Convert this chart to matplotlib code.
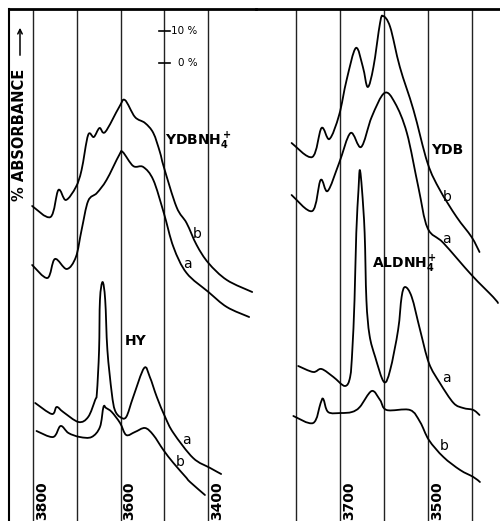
import matplotlib
matplotlib.use('Agg')
import matplotlib.pyplot as plt
import matplotlib.transforms as mtransforms
from matplotlib.path import Path
from matplotlib.patches import PathPatch, FancyArrowPatch
import numpy as np

# ---------------- data (wavenumber in cm-1, absorbance in chart units: 32 units = 10 %) -------------
YDBNH4_B_WN = [3802, 3760, 3742, 3725, 3702, 3689, 3674, 3661, 3648, 3635, 3603, 3590, 3567, 3544,
               3525, 3510, 3501, 3472, 3449, 3426, 3399, 3357, 3299]
YDBNH4_B_A = [315, 304, 331, 321, 334, 351, 386, 384, 393, 389, 414, 421, 404, 398,
              388, 369, 354, 314, 298, 276, 258, 241, 229]

YDBNH4_A_WN = [3802, 3767, 3750, 3723, 3702, 3689, 3674, 3654, 3632, 3603, 3595, 3571, 3548, 3525,
               3501, 3479, 3449, 3399, 3357, 3306]
YDBNH4_A_A = [256, 243, 262, 252, 264, 291, 320, 328, 341, 366, 369, 355, 354, 341,
              308, 274, 248, 229, 214, 204]

HY_A_WN = [3795, 3757, 3746, 3731, 3696, 3674, 3658, 3654, 3649, 3647, 3641, 3635, 3630, 3620,
           3613, 3601, 3587, 3571, 3546, 3533, 3517, 3498, 3479, 3434, 3395, 3370]
HY_A_A = [118, 107, 114, 109, 99, 104, 121, 128, 171, 221, 239, 221, 171, 128,
          111, 104, 104, 124, 153, 144, 124, 104, 88, 63, 53, 47]

HY_B_WN = [3792, 3754, 3737, 3719, 3693, 3666, 3647, 3639, 3633, 3620, 3601, 3587, 3567, 3544,
           3525, 3502, 3479, 3449, 3441, 3407]
HY_B_A = [90, 84, 95, 88, 84, 84, 94, 114, 113, 109, 98, 86, 89, 93,
          86, 71, 58, 43, 39, 26]

YDB_B_WN = [3810, 3763, 3742, 3724, 3702, 3685, 3664, 3648, 3637, 3624, 3609, 3602, 3586, 3564,
            3533, 3501, 3473, 3435, 3401, 3383]
YDB_B_A = [378, 364, 393, 382, 406, 441, 473, 454, 434, 454, 498, 505, 494, 454,
           411, 358, 331, 304, 284, 269]

YDB_A_WN = [3810, 3763, 3744, 3728, 3702, 3676, 3652, 3628, 3599, 3575, 3548, 3522, 3501, 3465,
            3401, 3352, 3341]
YDB_A_A = [326, 310, 341, 330, 358, 388, 374, 404, 428, 418, 388, 334, 293, 278,
           246, 224, 218]

ALDNH4_A_WN = [3795, 3761, 3742, 3715, 3689, 3677, 3672, 3667, 3663, 3658, 3655, 3650, 3644, 3640,
               3633, 3620, 3600, 3586, 3568, 3560, 3552, 3537, 3518, 3498, 3473, 3442, 3420, 3397, 3383]
ALDNH4_A_A = [155, 149, 152, 144, 135, 144, 171, 221, 288, 331, 351, 331, 288, 221,
              186, 164, 139, 151, 191, 224, 234, 224, 191, 158, 138, 118, 113, 111, 106]

ALDNH4_B_WN = [3806, 3761, 3744, 3738, 3727, 3698, 3673, 3655, 3628, 3609, 3594, 3541, 3518, 3498,
               3465, 3427, 3397, 3382]
ALDNH4_B_A = [105, 98, 118, 122, 109, 108, 109, 114, 130, 121, 111, 111, 99, 81,
              64, 51, 44, 39]

GRID_WN = [3800, 3700, 3600, 3500, 3400]
LEFT_TICKS = [3800, 3600, 3400]
RIGHT_TICKS = [3700, 3500]
SCALE_LABELS = ['10 %', '0 %']
SCALE_Y = [490, 458]

plt.rcParams['font.family'] = ['DejaVu Sans']
plt.rcParams['mathtext.default'] = 'regular'
LBL = 10
SML = 10

W, H = 500, 521
fig = plt.figure(figsize=(5.0, 5.21), dpi=100)
fig.patch.set_facecolor('white')


def P(px, row):
    return (px / W, 1 - row / H)


TOP = 8.5
axL = fig.add_axes([9 / W, 0, (256 - 9) / W, (H - TOP) / H])
axR = fig.add_axes([256 / W, 0, (500 - 256) / W, (H - TOP) / H])
axL.set_xlim(3854.9, 3290.3)
axR.set_xlim(3890.9, 3336.4)
for ax in (axL, axR):
    ax.set_ylim(0, H - TOP)
    ax.set_xticks([])
    ax.set_yticks([])
    ax.patch.set_alpha(0)
    for s in ('bottom', 'right', 'left'):
        ax.spines[s].set_visible(False)
    ax.spines['top'].set_linewidth(2.0)
    for wn in GRID_WN:
        ax.axvline(wn, color='#222222', lw=1.0, zorder=1)
axL.spines['left'].set_visible(True)
axL.spines['left'].set_linewidth(1.5)


def spectrum(ax, xs, ys):
    """Smooth curve through every read point (Catmull-Rom as cubic Bezier segments)."""
    pts = np.column_stack([xs, ys]).astype(float)
    n = len(pts)
    verts = [pts[0]]
    codes = [Path.MOVETO]
    for i in range(n - 1):
        p0 = pts[max(i - 1, 0)]
        p1 = pts[i]
        p2 = pts[i + 1]
        p3 = pts[min(i + 2, n - 1)]
        verts += [p1 + (p2 - p0) / 6.0, p2 - (p3 - p1) / 6.0, p2]
        codes += [Path.CURVE4] * 3
    ax.add_patch(PathPatch(Path(verts, codes), facecolor='none', edgecolor='black',
                           lw=1.3, joinstyle='round', capstyle='round', zorder=3))


spectrum(axL, YDBNH4_B_WN, YDBNH4_B_A)
spectrum(axL, YDBNH4_A_WN, YDBNH4_A_A)
spectrum(axL, HY_A_WN, HY_A_A)
spectrum(axL, HY_B_WN, HY_B_A)
spectrum(axR, YDB_B_WN, YDB_B_A)
spectrum(axR, YDB_A_WN, YDB_A_A)
spectrum(axR, ALDNH4_A_WN, ALDNH4_A_A)
spectrum(axR, ALDNH4_B_WN, ALDNH4_B_A)

# bottom wavenumber labels, written along the grid lines
for ax, ticks in ((axL, LEFT_TICKS), (axR, RIGHT_TICKS)):
    tr = mtransforms.offset_copy(mtransforms.blended_transform_factory(ax.transData, ax.transAxes),
                                 fig=fig, x=2, y=0, units='dots')
    for t in ticks:
        ax.text(t, (H - 519.5) / (H - TOP), str(t), transform=tr,
                rotation=90, ha='left', va='bottom', fontsize=LBL, fontweight='bold')

# absorbance scale bar on the 3500 line
for lab, yv in zip(SCALE_LABELS, SCALE_Y):
    axL.plot([3513, 3487], [yv, yv], color='black', lw=1.2, zorder=3)
    axL.text(3500, yv, lab, transform=mtransforms.offset_copy(axL.transData, fig=fig, x=33, y=0, units='dots'),
             ha='right', va='center', fontsize=7.5)

# y axis title
fig.text(*P(20, 135), '% ABSORBANCE', rotation=90, ha='center', va='center',
         fontsize=10.5, fontweight='bold')
fig.add_artist(FancyArrowPatch(P(20, 58), P(20, 25), transform=fig.transFigure,
                               arrowstyle='->', mutation_scale=8, lw=1.1, color='black'))

# sample labels
fig.text(*P(165, 145), r'YDBNH$_4^+$', ha='left', va='baseline', fontsize=LBL, fontweight='bold')
fig.text(*P(125, 345), 'HY', ha='left', va='baseline', fontsize=LBL, fontweight='bold')
fig.text(*P(431, 154), 'YDB', ha='left', va='baseline', fontsize=LBL, fontweight='bold')
fig.text(*P(372, 268), r'ALDNH$_4^+$', ha='left', va='baseline', fontsize=LBL, fontweight='bold')

for px, row, s in [(197, 234, 'b'), (187, 264, 'a'), (186, 440, 'a'), (180, 462, 'b'),
                   (447, 197, 'b'), (446, 239, 'a'), (446, 378, 'a'), (444, 446, 'b')]:
    fig.text(*P(px, row), s, ha='center', va='center', fontsize=SML)

fig.savefig('out.png', dpi=100, facecolor='white')
